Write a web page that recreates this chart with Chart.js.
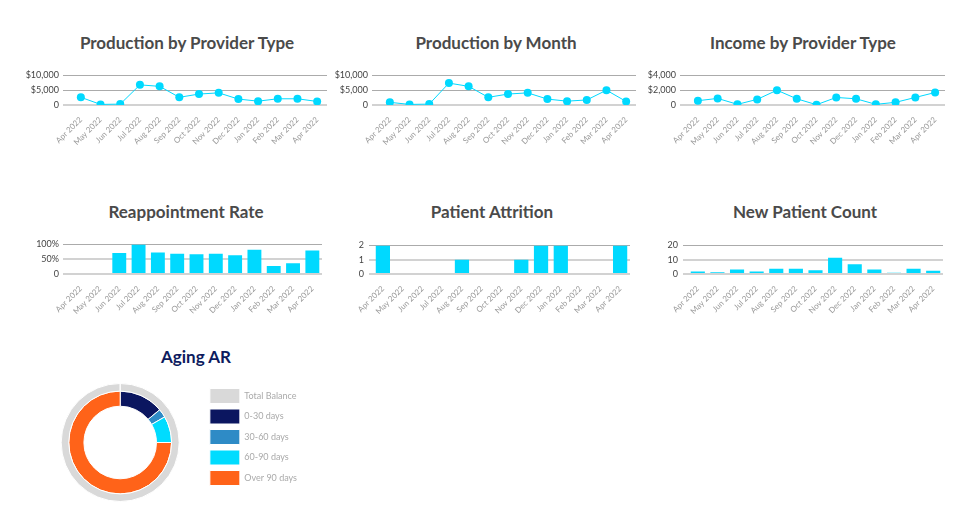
<!DOCTYPE html>
<html>
<head>
<meta charset="utf-8">
<script src="https://cdn.jsdelivr.net/npm/chart.js@4.4.1/dist/chart.umd.min.js"></script>
<style>
  body { margin: 0; background: #fff; width: 980px; height: 524px; overflow: hidden; position: relative; font-family: Lato, sans-serif; }
  .box { position: absolute; }
  .title { position: absolute; transform: translateX(-50%); white-space: nowrap; font-size: 17px; line-height: 20px; font-weight: 700; color: #4a4a4a; }
</style>
</head>
<body>
<div class="title" style="left:187px;top:33px">Production by Provider Type</div>
<div class="title" style="left:496px;top:33px">Production by Month</div>
<div class="title" style="left:803px;top:33px">Income by Provider Type</div>
<div class="title" style="left:186px;top:202px">Reappointment Rate</div>
<div class="title" style="left:492px;top:202px">Patient Attrition</div>
<div class="title" style="left:805px;top:202px">New Patient Count</div>
<div class="title" style="left:196px;top:347px;color:#0d1b5e">Aging AR</div>

<div class="box" id="b1"><canvas id="c1"></canvas></div>
<div class="box" id="b2"><canvas id="c2"></canvas></div>
<div class="box" id="b3"><canvas id="c3"></canvas></div>
<div class="box" id="b4"><canvas id="c4"></canvas></div>
<div class="box" id="b5"><canvas id="c5"></canvas></div>
<div class="box" id="b6"><canvas id="c6"></canvas></div>
<div class="box" id="b7"><canvas id="c7"></canvas></div>

<script>
// data
const months = ['Apr 2022', 'May 2022', 'Jun 2022', 'Jul 2022', 'Aug 2022', 'Sep 2022', 'Oct 2022',
  'Nov 2022', 'Dec 2022', 'Jan 2022', 'Feb 2022', 'Mar 2022', 'Apr 2022'];
const prodByProvider = [2600, 200, 300, 6800, 6300, 2600, 3700, 4100, 2000, 1300, 2100, 2100, 1200];
const prodByMonth = [900, 200, 300, 7400, 6300, 2600, 3700, 4100, 2000, 1300, 1700, 5000, 1200];
const incomeByProvider = [580, 890, 90, 760, 2000, 840, 40, 1020, 840, 90, 360, 1020, 1690];
const reapptRate = [null, null, 71, 100, 73, 68, 67, 68, 63, 82, 27, 36, 79];
const attrition = [2, 0, 0, 0, 1, 0, 0, 1, 2, 2, 0, 0, 2];
const newPatients = [1.7, 1.3, 3.2, 1.7, 3.6, 3.6, 2.7, 11.4, 6.8, 3.2, 0.9, 3.6, 2.2];

const agingLabels = ['Total Balance', '0-30 days', '30-60 days', '60-90 days', 'Over 90 days'];
const agingTotal = [100, 0, 0, 0, 0];
const agingBuckets = [0, 14, 2.7, 8.3, 75];
const agingColors = ['#d9d9d9', '#0b1660', '#2e8bc6', '#00dcff', '#ff6319'];

const CYAN = '#00d9ff';

const money = v => v === 0 ? '0' : '$' + v.toLocaleString('en-US');
const pct = v => v === 0 ? '0' : v + '%';
const plain = v => String(v);

function place(id, x, y, w, h) {
  const b = document.getElementById(id);
  b.style.left = x + 'px';
  b.style.top = y + 'px';
  b.style.width = w + 'px';
  b.style.height = h + 'px';
}

// g: canvas left, chart area left/right, canvas top, area top/bottom, canvas bottom
function smallChart(n, type, values, g, yMax, yStep, fmt, midLight) {
  const w = g.R - g.x0 + 4;
  const h = g.bottom - g.top;
  place('b' + n, g.x0, g.top, w, h);

  const ds = type === 'line' ? {
    data: values,
    borderColor: CYAN,
    backgroundColor: CYAN,
    borderWidth: 1,
    pointRadius: 4,
    pointBorderWidth: 0,
    pointBackgroundColor: CYAN,
    tension: 0
  } : {
    data: values,
    backgroundColor: CYAN,
    barPercentage: 0.72,
    categoryPercentage: 1
  };

  new Chart(document.getElementById('c' + n), {
    type: type,
    data: { labels: months, datasets: [ds] },
    options: {
      responsive: true,
      maintainAspectRatio: false,
      animation: false,
      layout: { padding: { left: 0, right: 4, top: g.aTop - g.top, bottom: 0 } },
      plugins: { legend: { display: false }, tooltip: { enabled: false } },
      scales: {
        x: {
          offset: true,
          grid: { display: false },
          border: { display: false },
          ticks: {
            autoSkip: false, minRotation: 45, maxRotation: 45, padding: 2,
            color: '#999', font: { family: 'Lato', size: 8 }
          },
          afterFit: s => { s.height = g.bottom - g.aBottom; }
        },
        y: {
          min: 0, max: yMax,
          border: { display: false },
          grid: {
            tickLength: g.tick,
            color: c => (c.tick.value === 0 || (midLight && c.tick.value !== yMax)) ? '#d2d2d2' : '#ababab',
            lineWidth: c => (c.tick.value === 0 || (midLight && c.tick.value !== yMax)) ? 2 : 1
          },
          ticks: {
            stepSize: yStep, padding: g.pad, callback: fmt,
            color: '#444', font: { family: 'Lato', size: 9 }
          },
          afterFit: s => { s.width = g.L - g.x0; }
        }
      }
    }
  });
}

smallChart(1, 'line', prodByProvider,
  { x0: 20, L: 71, R: 327, top: 66, aTop: 74, aBottom: 105, bottom: 150, tick: 8, pad: 4 },
  10000, 5000, money, false);
smallChart(2, 'line', prodByMonth,
  { x0: 330, L: 380, R: 636, top: 66, aTop: 74, aBottom: 105, bottom: 150, tick: 8, pad: 4 },
  10000, 5000, money, false);
smallChart(3, 'line', incomeByProvider,
  { x0: 642, L: 688, R: 945, top: 66, aTop: 74, aBottom: 105, bottom: 150, tick: 8, pad: 4 },
  4000, 2000, money, false);
smallChart(4, 'bar', reapptRate,
  { x0: 28, L: 71, R: 322, top: 235, aTop: 243, aBottom: 274, bottom: 320, tick: 8, pad: 4 },
  100, 50, pct, true);
smallChart(5, 'bar', attrition,
  { x0: 343, L: 373, R: 630, top: 235, aTop: 243, aBottom: 274, bottom: 320, tick: 4, pad: 5 },
  2, 1, plain, true);
smallChart(6, 'bar', newPatients,
  { x0: 658, L: 688, R: 943, top: 235, aTop: 243, aBottom: 274, bottom: 320, tick: 5, pad: 5 },
  20, 10, plain, true);

// Aging AR doughnut with legend on the right
place('b7', 36, 380, 280, 125);
new Chart(document.getElementById('c7'), {
  type: 'doughnut',
  data: {
    labels: agingLabels,
    datasets: [
      { data: agingTotal, backgroundColor: agingColors, borderColor: '#fff', borderWidth: 1, weight: 1 },
      { data: agingBuckets, backgroundColor: agingColors, borderColor: '#fff', borderWidth: 1, weight: 2 }
    ]
  },
  options: {
    responsive: true,
    maintainAspectRatio: false,
    animation: false,
    cutout: '61.5%',
    layout: { padding: { left: 0, right: 9, top: 3, bottom: 3 } },
    plugins: {
      tooltip: { enabled: false },
      legend: {
        position: 'right',
        align: 'start',
        labels: {
          boxWidth: 30, boxHeight: 15, padding: 5.5,
          color: '#aaa', font: { family: 'Lato', size: 9 }
        }
      }
    }
  }
});
</script>
</body>
</html>
